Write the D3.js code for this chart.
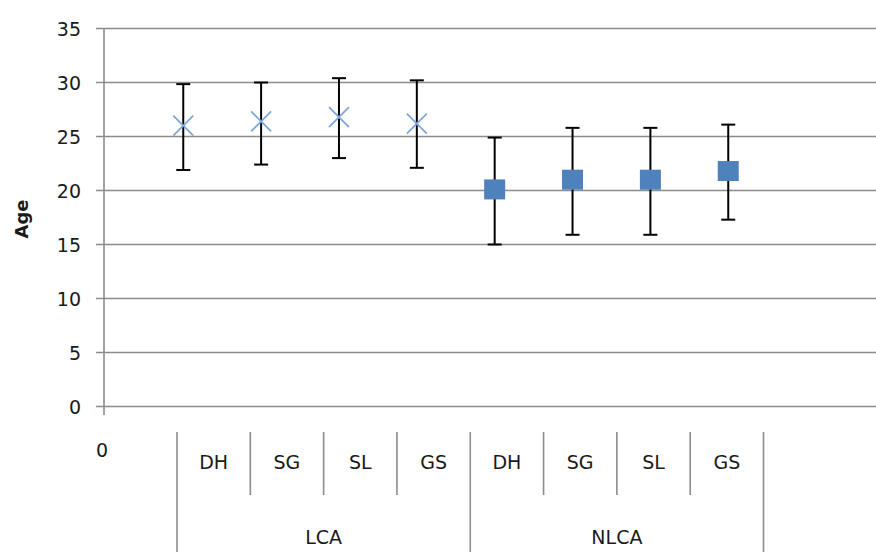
<!DOCTYPE html>
<html><head><meta charset="utf-8">
<script src="https://cdn.jsdelivr.net/npm/d3@7"></script>
<style>body{margin:0;background:#fff}svg{display:block}text{font-family:"DejaVu Sans","Liberation Sans",sans-serif;fill:#1a1a1a}</style>
</head><body><svg id="c" width="876" height="552"></svg>
<script>
const groups = ["LCA", "NLCA"];
const subCats = ["DH", "SG", "SL", "GS"];
const lcaMean = [26.0, 26.4, 26.8, 26.2];
const lcaHigh = [29.85, 30.0, 30.4, 30.2];
const lcaLow  = [21.9, 22.4, 23.0, 22.1];
const nlcaMean = [20.1, 21.0, 21.0, 21.8];
const nlcaHigh = [24.9, 25.8, 25.8, 26.1];
const nlcaLow  = [15.0, 15.9, 15.9, 17.3];
const yTicks = [0, 5, 10, 15, 20, 25, 30, 35];
const firstCategoryLabel = "0";
const yTitle = "Age";

const FS = 19;
const svg = d3.select("#c");
const slots = d3.range(10);
const x = d3.scalePoint().domain(slots).range([105.4, 806.1]);
const y = d3.scaleLinear().domain([0, 35]).range([406.5, 28.5]);

// gridlines
svg.append("g").selectAll("line").data(yTicks).join("line")
  .attr("x1", 96).attr("x2", 876).attr("y1", d => y(d)).attr("y2", d => y(d))
  .attr("stroke", "#8c8c8c").attr("stroke-width", 1.6);
// y axis line
svg.append("line").attr("x1", 104).attr("x2", 104).attr("y1", y(35)).attr("y2", 415)
  .attr("stroke", "#8c8c8c").attr("stroke-width", 1.6);
// y labels
svg.append("g").selectAll("text").data(yTicks).join("text")
  .attr("x", 81).attr("y", d => y(d) + 0.5).attr("dy", "0.36em").attr("text-anchor", "end")
  .attr("font-size", FS).text(d => d);
svg.append("text").attr("transform", "translate(27.5,219) rotate(-90)")
  .attr("text-anchor", "middle").attr("font-size", 18).attr("font-weight", "bold").text(yTitle);

// category label table
const labelCats = [];
groups.forEach(g => subCats.forEach(s => labelCats.push(g + "|" + s)));
const xl = d3.scaleBand().domain(labelCats).range([177, 763.5]);
svg.append("text").attr("x", 102).attr("y", 450).attr("dy", "0.36em").attr("text-anchor", "middle")
  .attr("font-size", FS).text(firstCategoryLabel);
svg.append("g").selectAll("text").data(labelCats).join("text")
  .attr("x", d => xl(d) + xl.bandwidth() / 2).attr("y", 462.5).attr("dy", "0.36em")
  .attr("text-anchor", "middle").attr("font-size", FS).text(d => d.split("|")[1]);
svg.append("g").selectAll("line").data(labelCats.filter((d, i) => i % 4 !== 0)).join("line")
  .attr("x1", d => xl(d)).attr("x2", d => xl(d)).attr("y1", 432).attr("y2", 495)
  .attr("stroke", "#8c8c8c").attr("stroke-width", 1.6);
const gEdges = [xl(labelCats[0]), xl(labelCats[4]), xl(labelCats[7]) + xl.bandwidth()];
svg.append("g").selectAll("line").data(gEdges).join("line")
  .attr("x1", d => d).attr("x2", d => d).attr("y1", 432).attr("y2", 552)
  .attr("stroke", "#8c8c8c").attr("stroke-width", 1.6);
svg.append("g").selectAll("text").data(groups).join("text")
  .attr("x", (d, i) => (gEdges[i] + gEdges[i + 1]) / 2).attr("y", 537).attr("dy", "0.36em")
  .attr("text-anchor", "middle").attr("font-size", FS).text(d => d);

// data
const pts = [];
subCats.forEach((s, i) => pts.push({slot: 1 + i, m: lcaMean[i], hi: lcaHigh[i], lo: lcaLow[i], t: "x"}));
subCats.forEach((s, i) => pts.push({slot: 5 + i, m: nlcaMean[i], hi: nlcaHigh[i], lo: nlcaLow[i], t: "sq"}));

const eb = svg.append("g").attr("stroke", "#000").attr("stroke-width", 2);
eb.selectAll(".v").data(pts).join("line")
  .attr("x1", d => x(d.slot)).attr("x2", d => x(d.slot)).attr("y1", d => y(d.hi)).attr("y2", d => y(d.lo));
eb.selectAll(".t").data(pts).join("line")
  .attr("x1", d => x(d.slot) - 7).attr("x2", d => x(d.slot) + 7).attr("y1", d => y(d.hi)).attr("y2", d => y(d.hi));
eb.selectAll(".b").data(pts).join("line")
  .attr("x1", d => x(d.slot) - 7).attr("x2", d => x(d.slot) + 7).attr("y1", d => y(d.lo)).attr("y2", d => y(d.lo));
const sq = pts.filter(p => p.t === "sq");
svg.append("g").selectAll("rect").data(sq).join("rect")
  .attr("x", d => x(d.slot) - 10.5).attr("y", d => y(d.m) - 10).attr("width", 21).attr("height", 20)
  .attr("fill", "#4f81bd");
const xs = pts.filter(p => p.t === "x");
const xg = svg.append("g").attr("stroke", "#7ea6d8").attr("stroke-width", 1.8);
xg.selectAll(".a").data(xs).join("line")
  .attr("x1", d => x(d.slot) - 10).attr("x2", d => x(d.slot) + 10).attr("y1", d => y(d.m) - 10).attr("y2", d => y(d.m) + 10);
xg.selectAll(".c").data(xs).join("line")
  .attr("x1", d => x(d.slot) - 10).attr("x2", d => x(d.slot) + 10).attr("y1", d => y(d.m) + 10).attr("y2", d => y(d.m) - 10);
</script></body></html>
